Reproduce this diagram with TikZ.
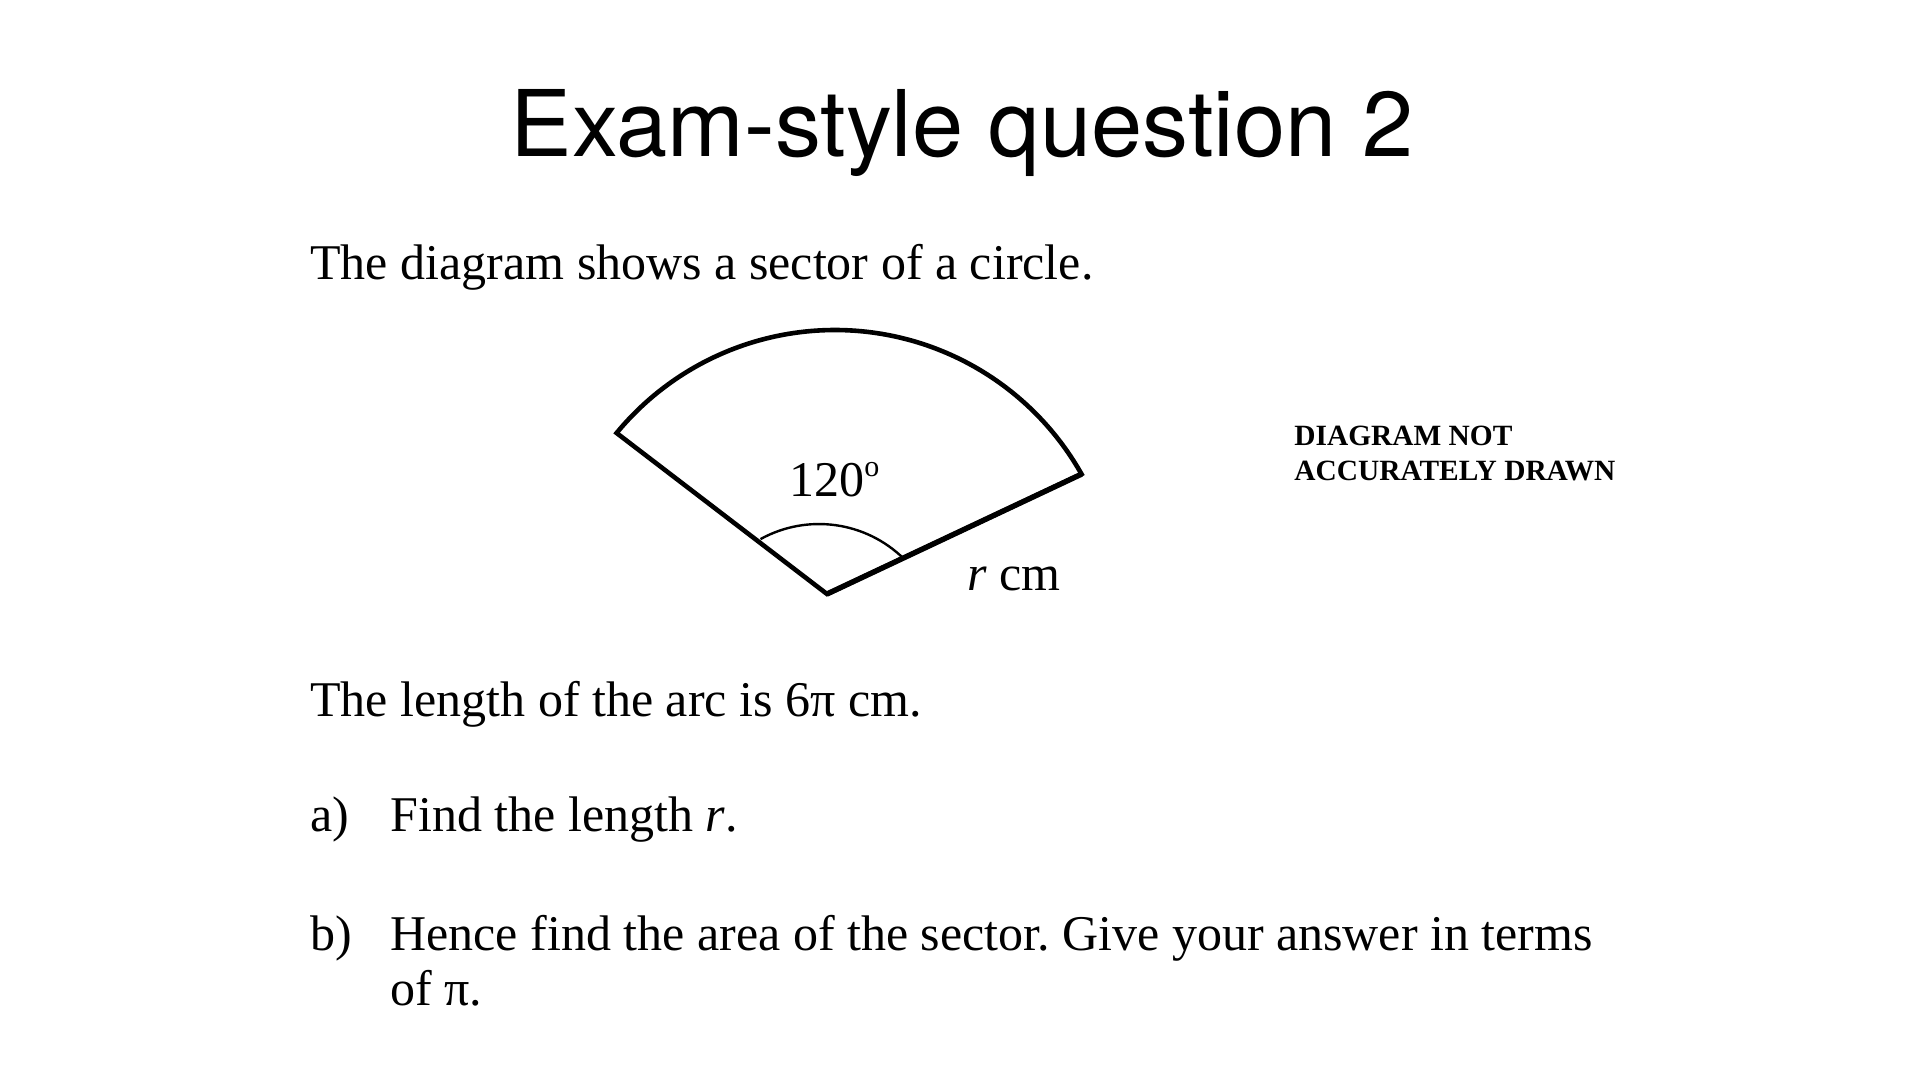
\documentclass[tikz,border=0pt]{standalone}
\usepackage{fontspec}
\setmainfont{Liberation Serif}
\newfontfamily\titlefont{TeX Gyre Heros}
\frenchspacing
\begin{document}
\begin{tikzpicture}[x=0.5pt,y=-0.5pt,
  body/.style={inner sep=0pt, anchor=base west, font=\fontsize{25pt}{30pt}\selectfont},
  note/.style={inner sep=0pt, anchor=base west, font=\bfseries\fontsize{14.7pt}{17pt}\selectfont},
  sectoredge/.style={line width=2.3pt, line join=miter},
  anglemark/.style={line width=1.2pt}]
\useasboundingbox (0,0) rectangle (1920,1080);
% title
\node[inner sep=0pt, anchor=base, font=\titlefont\fontsize{46pt}{50pt}\selectfont] (title) at (962,157) {Exam-style question 2};
\node[body] (intro) at (310,280) {The diagram shows a sector of a circle.};
% sector
\coordinate (C) at (827,594);
\coordinate (L) at (616.6,433);
\coordinate (R) at (1081.6,474.1);
\coordinate (A1) at (760.5,539.1);
\draw[sectoredge] (C) -- (L) arc[start angle=-140.5, end angle=-29.4, radius=283] -- cycle;
\draw[line width=2.7pt] (C) -- (R);
\draw[anglemark] (A1) arc[start angle=-118.9, end angle=-45.6, radius=121];
\node[body] (ang) at (789,496) {120\raisebox{10pt}{\fontsize{15pt}{15pt}\selectfont o}};
\node[body] (rlab) at (967,590) {\textit{r} cm};
\node[note] (n1) at (1294,445) {DIAGRAM NOT};
\node[note] (n2) at (1294,480) {ACCURATELY DRAWN};
% text
\node[body] (arclen) at (310,716) {The length of the arc is 6π cm.};
\node[body] (qa) at (310,831) {a)};
\node[body] (qatext) at (390,831) {Find the length \textit{r}.};
\node[body] (qb) at (310,950) {b)};
\node[body] (qbtext) at (390,950) {Hence find the area of the sector. Give your answer in terms};
\node[body] (qbtext2) at (390,1005) {of π.};
\end{tikzpicture}
\end{document}
